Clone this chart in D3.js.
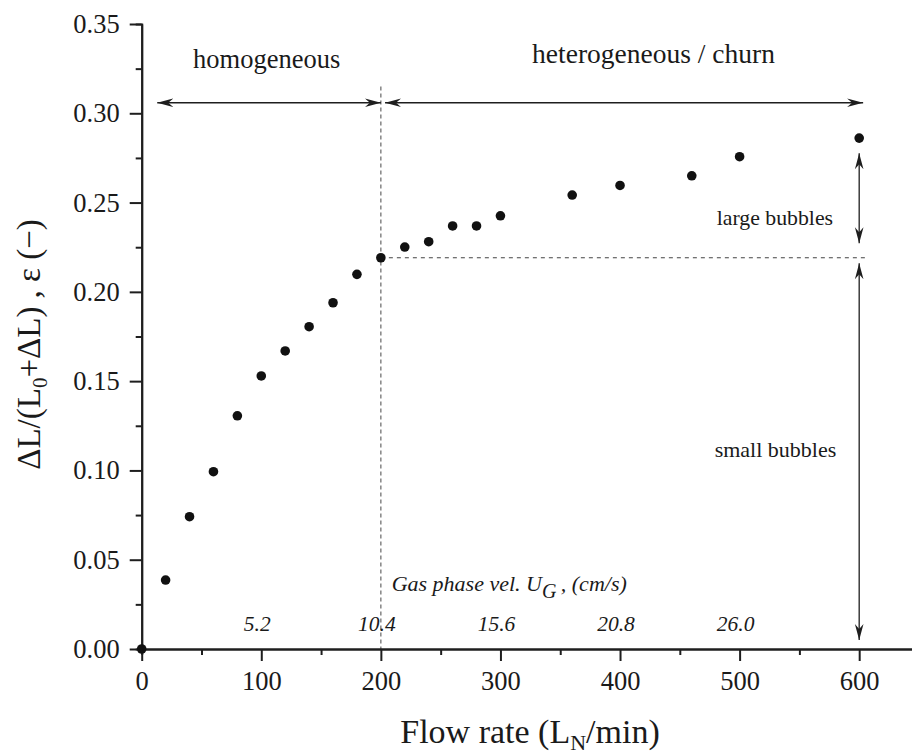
<!DOCTYPE html>
<html>
<head>
<meta charset="utf-8">
<script src="https://cdn.jsdelivr.net/npm/d3@7"></script>
<style>
  html, body { margin: 0; padding: 0; background: #fff; }
  svg { display: block; }
  text { font-family: "Liberation Serif", serif; fill: #1a1a1a; }
  text.it { font-family: "Liberation Serif", serif; font-style: italic; }
</style>
</head>
<body>
<svg id="chart" width="912" height="755"></svg>
<script>
// ---------------- data ----------------
const flowRate = [0, 20, 40, 60, 80, 100, 120, 140, 160, 180, 200, 220, 240, 260, 280, 300, 360, 400, 460, 500, 600];
const holdup   = [0, 0.0386, 0.0741, 0.0993, 0.1306, 0.1529, 0.1669, 0.1805, 0.1939, 0.2098, 0.2191,
                  0.2251, 0.2281, 0.2369, 0.2369, 0.2426, 0.2542, 0.2596, 0.2650, 0.2757, 0.2861];
const xTicks = [0, 100, 200, 300, 400, 500, 600];
const xMinorTicks = [50, 150, 250, 350, 450, 550];
const yTicks = [0, 0.05, 0.10, 0.15, 0.20, 0.25, 0.30, 0.35];
const yMinorTicks = [0.025, 0.075, 0.125, 0.175, 0.225, 0.275, 0.325];
const ugLabels = ["5.2", "10.4", "15.6", "20.8", "26.0"];
const ugFlow = [100, 200, 300, 400, 500];
const transitionFlow = 200;
const transitionHoldup = 0.2191;
const regimeLabels = ["homogeneous", "heterogeneous / churn"];
const bubbleLabels = ["large bubbles", "small bubbles"];

// ---------------- layout ----------------
const svg = d3.select("#chart");
const x = d3.scaleLinear().domain([0, 645]).range([141.7, 913]);
const y = d3.scaleLinear().domain([0, 0.35]).range([649, 24]);
const ink = "#1e1e1e";

// arrow marker
const defs = svg.append("defs");
defs.append("marker")
  .attr("id", "arr")
  .attr("markerUnits", "userSpaceOnUse")
  .attr("viewBox", "0 -5 16 10")
  .attr("markerWidth", 16).attr("markerHeight", 10)
  .attr("refX", 16).attr("refY", 0)
  .attr("orient", "auto-start-reverse")
  .append("path")
  .attr("d", "M0,-4.3 L16,0 L0,4.3 L5,0 Z")
  .attr("fill", ink);

// dashed guide lines
svg.append("line")
  .attr("x1", x(transitionFlow)).attr("x2", x(transitionFlow))
  .attr("y1", y(0.315)).attr("y2", y(0))
  .attr("stroke", "#666").attr("stroke-width", 1.2).attr("stroke-dasharray", "4,3");
svg.append("line")
  .attr("x1", x(transitionFlow)).attr("x2", x(607))
  .attr("y1", y(transitionHoldup)).attr("y2", y(transitionHoldup))
  .attr("stroke", "#444").attr("stroke-width", 1.1).attr("stroke-dasharray", "4,4");

// regime arrows
const arrowY = 0.3059;
function arrow(x1, y1, x2, y2) {
  svg.append("line")
    .attr("x1", x1).attr("y1", y1).attr("x2", x2).attr("y2", y2)
    .attr("stroke", ink).attr("stroke-width", 1.3)
    .attr("marker-start", "url(#arr)").attr("marker-end", "url(#arr)");
}
arrow(x(13), y(arrowY), x(transitionFlow), y(arrowY));
arrow(x(203.5), y(arrowY), x(603.3), y(arrowY));
arrow(x(600), y(0.2776), x(600), y(0.2272));
arrow(x(600), y(0.2160), x(600), y(0.0050));

// axes
function styleAxis(g) {
  g.selectAll("path").attr("stroke", ink).attr("stroke-width", 2);
  g.selectAll("line").attr("stroke", ink).attr("stroke-width", 2);
  g.selectAll("text").attr("font-family", "Liberation Serif").attr("font-size", 26.5).attr("fill", "#1a1a1a");
}
svg.append("g").attr("transform", `translate(0,${y(0)})`)
  .call(d3.axisBottom(x).tickValues(xMinorTicks).tickSize(6).tickFormat(""))
  .call(styleAxis);
svg.append("g").attr("transform", `translate(0,${y(0)})`)
  .call(d3.axisBottom(x).tickValues(xTicks).tickSize(12).tickSizeOuter(0).tickPadding(10).tickFormat(d3.format("d")))
  .call(styleAxis);
svg.append("g").attr("transform", `translate(${x(0)},0)`)
  .call(d3.axisLeft(y).tickValues(yMinorTicks).tickSize(6).tickFormat(""))
  .call(styleAxis);
svg.append("g").attr("transform", `translate(${x(0)},0)`)
  .call(d3.axisLeft(y).tickValues(yTicks).tickSize(12).tickSizeOuter(0).tickPadding(10).tickFormat(d3.format(".2f")))
  .call(styleAxis);

// points
svg.append("g").selectAll("circle")
  .data(flowRate.map((f, i) => [f, holdup[i]]))
  .join("circle")
  .attr("cx", d => x(d[0])).attr("cy", d => y(d[1]))
  .attr("r", 4.8).attr("fill", "#111");

// annotations
svg.append("text").attr("x", x(104.5)).attr("y", y(0.3255))
  .attr("text-anchor", "middle").attr("font-size", 26.5).text(regimeLabels[0]);
svg.append("text").attr("x", x(428)).attr("y", y(0.328))
  .attr("text-anchor", "middle").attr("font-size", 27.5).text(regimeLabels[1]);
svg.append("text").attr("x", x(529.5)).attr("y", y(0.2374))
  .attr("text-anchor", "middle").attr("font-size", 21.8).text(bubbleLabels[0]);
svg.append("text").attr("x", x(530)).attr("y", y(0.1077))
  .attr("text-anchor", "middle").attr("font-size", 22).text(bubbleLabels[1]);

// gas-phase velocity label and values
const gas = svg.append("text").attr("class", "it").attr("x", x(209)).attr("y", y(0.0325))
  .attr("font-size", 22);
gas.append("tspan").text("Gas phase vel. U");
gas.append("tspan").attr("dy", 7).attr("font-size", 20).text("G");
gas.append("tspan").attr("dy", -7).text("\u2009, (cm/s)");

svg.append("g").selectAll("text")
  .data(ugLabels.map((t, i) => [t, ugFlow[i]]))
  .join("text")
  .attr("class", "it")
  .attr("x", d => x(d[1]) - 4).attr("y", y(0.0102))
  .attr("text-anchor", "middle").attr("font-size", 21.5)
  .text(d => d[0]);

// axis titles
const xt = svg.append("text").attr("x", 530).attr("y", 743)
  .attr("text-anchor", "middle").attr("font-size", 34);
xt.append("tspan").text("Flow rate (L");
xt.append("tspan").attr("dy", 7).attr("font-size", 22).text("N");
xt.append("tspan").attr("dy", -7).text("/min)");

const yt = svg.append("text")
  .attr("transform", `translate(40,${(y(0) + y(0.35)) / 2 + 8}) rotate(-90)`)
  .attr("text-anchor", "middle").attr("font-size", 33);
yt.append("tspan").text("ΔL/(L");
yt.append("tspan").attr("dy", 7).attr("font-size", 21).text("0");
yt.append("tspan").attr("dy", -7).text("+ΔL) , ε (−)");
</script>
</body>
</html>
